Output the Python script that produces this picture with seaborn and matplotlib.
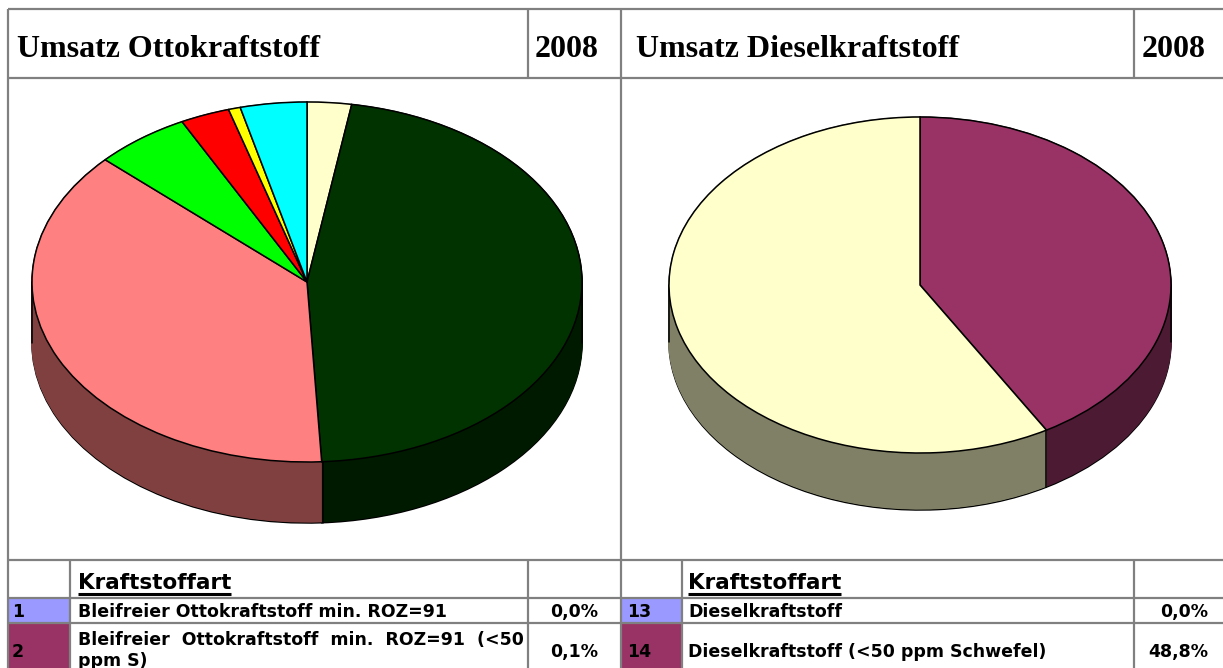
import numpy as np
import matplotlib
matplotlib.use("Agg")
import matplotlib.pyplot as plt
import matplotlib.colors as mcolors
from matplotlib.patches import Rectangle
import seaborn as sns

# Anteile im Uhrzeigersinn ab 12 Uhr (aus dem Bild geschaetzt, in %)
otto_shares = [2.6, 46.5, 37.7, 5.6, 2.9, 0.7, 3.9]
otto_colors = ["#FFFFCC", "#003300", "#FF8080", "#00FF00", "#FF0000", "#FFFF00", "#00FFFF"]
diesel_shares = [41.6, 58.4]
diesel_colors = ["#993366", "#FFFFCC"]

# Kopfzeilen
titles = ["Umsatz Ottokraftstoff", "Umsatz Dieselkraftstoff"]
year = "2008"

# Tabelle unter den Diagrammen
otto_ids = ["1", "2"]
otto_names = ["Bleifreier Ottokraftstoff min. ROZ=91",
              "Bleifreier  Ottokraftstoff  min.  ROZ=91  (<50\nppm S)"]
otto_pct = ["0,0%", "0,1%"]
diesel_ids = ["13", "14"]
diesel_names = ["Dieselkraftstoff", "Dieselkraftstoff (<50 ppm Schwefel)"]
diesel_pct = ["0,0%", "48,8%"]
id_colors = ["#9999FF", "#993366"]

sns.set_theme(style="white")
plt.rcParams['font.family'] = ['DejaVu Sans']
plt.rcParams['text.color'] = 'black'

W, H = 1223, 668
fig = plt.figure(figsize=(W / 100, H / 100), dpi=100)
fig.patch.set_facecolor("white")

# Hintergrund-Achse in Pixelkoordinaten fuer Tabelle und Kopf
bg = fig.add_axes([0, 0, 1, 1])
bg.set_xlim(0, W)
bg.set_ylim(H, 0)
bg.axis("off")

grid = "#808080"
glw = 1.6

# farbige Nummernzellen
rows_y = [(598, 623), (623, 668)]
for (y0, y1), c in zip(rows_y, id_colors):
    bg.add_patch(Rectangle((8, y0), 62, y1 - y0, color=c, lw=0))
    bg.add_patch(Rectangle((621, y0), 61, y1 - y0, color=c, lw=0))

# Gitterlinien
for y in [9, 78, 560, 598, 623]:
    bg.hlines(y, 8, W, color=grid, lw=glw)
bg.vlines([8, 621], 9, H, color=grid, lw=glw)
bg.vlines([528, 1134], 9, 78, color=grid, lw=glw)
bg.vlines([70, 528, 682, 1134], 560, H, color=grid, lw=glw)

# Kopf
serif = dict(family="Liberation Serif", weight="bold", size=23, va="baseline")
bg.text(17, 57, titles[0], **serif)
bg.text(535, 57, year, **serif)
bg.text(636, 57, titles[1], **serif)
bg.text(1142, 57, year, **serif)

# Tabellenkopf mit Unterstreichung
fig.canvas.draw()
rend = fig.canvas.get_renderer()
for x0 in [78, 688]:
    t = bg.text(x0, 589, "Kraftstoffart", size=15.5, weight="bold", va="baseline")
    bb = t.get_window_extent(rend)
    x1 = bg.transData.inverted().transform((bb.x1, 0))[0]
    bg.plot([x0, x1], [593.5, 593.5], color="black", lw=2.2, solid_capstyle="butt")

body = dict(size=12.5, weight="bold")


def table_rows(x_id, x_name, x_pct, ids, names, pcts):
    # erste Zeile auf Grundlinie, zweite Zeile zentriert
    bg.text(x_id, 617, ids[0], va="baseline", **body)
    bg.text(x_name, 617, names[0], va="baseline", **body)
    bg.text(x_pct, 617, pcts[0], va="baseline", ha="right", **body)
    bg.text(x_id, 652, ids[1], va="center", **body)
    if "\n" in names[1]:
        bg.text(x_name, 631, names[1], va="top", linespacing=1.2, **body)
    else:
        bg.text(x_name, 652, names[1], va="center", **body)
    bg.text(x_pct, 652, pcts[1], va="center", ha="right", **body)


table_rows(12, 78, 598, otto_ids, otto_names, otto_pct)
table_rows(627, 688, 1208, diesel_ids, diesel_names, diesel_pct)


def pie_3d(cx, cy, rx, ry, depth, shares, colors):
    d = depth / ry
    ax = fig.add_axes([(cx - rx) / W, 1 - (cy + ry + depth) / H,
                       2 * rx / W, (2 * ry + depth) / H])
    side = [tuple(0.5 * v for v in mcolors.to_rgb(c)) for c in colors]
    layers = np.linspace(-d, 0, int(depth) + 1)
    for i, s in enumerate(layers):
        wedges, _ = ax.pie(shares, colors=side, startangle=90, counterclock=False,
                           center=(0, s), radius=1,
                           wedgeprops=dict(lw=1.1 if i == 0 else 0.8))
        for w, c in zip(wedges, side):
            w.set_edgecolor("black" if i == 0 else c)
            w.set_clip_on(False)
    # senkrechte Kanten an Silhouette und sichtbaren Segmentgrenzen
    ang = np.deg2rad(90 - np.cumsum([0] + list(shares)) * 3.6)
    for a in ang:
        if np.sin(a) < -1e-6:
            ax.plot([np.cos(a)] * 2, [np.sin(a), np.sin(a) - d], color="black",
                    lw=1.1, clip_on=False)
    for xs in [-1, 1]:
        ax.plot([xs, xs], [0, -d], color="black", lw=1.1, clip_on=False)
    wedges, _ = ax.pie(shares, colors=colors, startangle=90, counterclock=False,
                       center=(0, 0), radius=1,
                       wedgeprops=dict(edgecolor="black", lw=1.1))
    for w in wedges:
        w.set_clip_on(False)
        w.set_zorder(3)
    ax.set_aspect("auto")
    ax.set_xlim(-1, 1)
    ax.set_ylim(-1 - d, 1)
    ax.axis("off")
    return ax


pie_3d(307, 282, 275, 180, 61, otto_shares, otto_colors)
pie_3d(920, 285, 251, 168, 57, diesel_shares, diesel_colors)

fig.savefig("out.png", dpi=100, facecolor="white")
